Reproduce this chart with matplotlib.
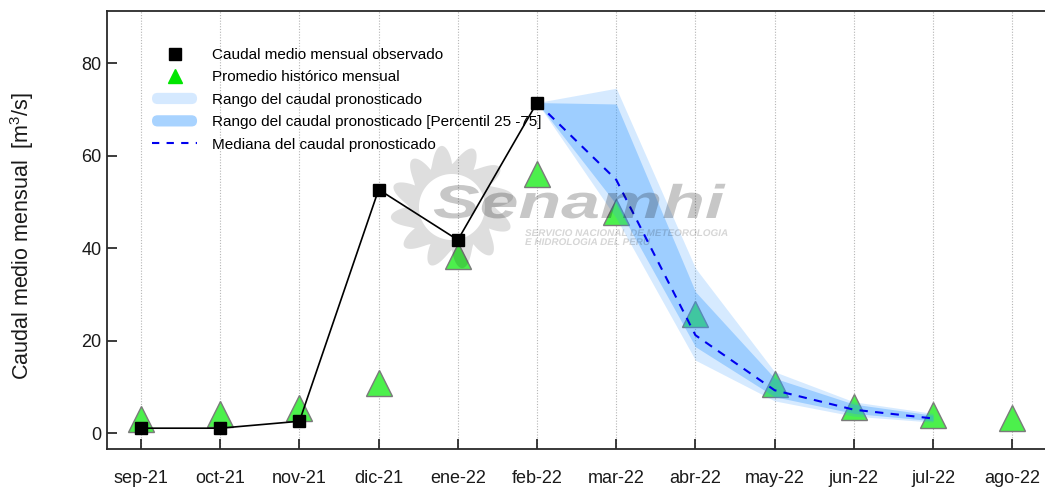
import numpy as np
import matplotlib
matplotlib.use("Agg")
import matplotlib.pyplot as plt
from matplotlib.lines import Line2D
from matplotlib.patches import Patch, FancyBboxPatch, PathPatch
from matplotlib.path import Path
from matplotlib.transforms import Affine2D
from matplotlib.patheffects import AbstractPathEffect
from matplotlib.legend_handler import HandlerBase

plt.rcParams['font.family'] = ['Liberation Sans', 'DejaVu Sans']
plt.rcParams['mathtext.default'] = 'regular'

# ---- data -------------------------------------------------------------
months = ['sep-21', 'oct-21', 'nov-21', 'dic-21', 'ene-22', 'feb-22',
          'mar-22', 'abr-22', 'may-22', 'jun-22', 'jul-22', 'ago-22']

observed = [1.1, 1.1, 2.6, 52.7, 41.8, 71.5]                 # sep-21 .. feb-22
historical = [3.0, 4.1, 5.4, 10.8, 38.3, 56.1,
              47.9, 25.8, 10.7, 5.7, 3.9, 3.2]              # sep-21 .. ago-22

forecast_months = ['feb-22', 'mar-22', 'abr-22', 'may-22', 'jun-22', 'jul-22']
range_upper = [71.5, 74.6, 35.7, 13.3, 6.8, 4.3]
range_lower = [71.5, 46.5, 15.8, 7.0, 3.7, 2.4]
p75 = [71.5, 71.2, 30.6, 11.9, 6.3, 3.9]
p25 = [71.5, 49.5, 18.7, 7.9, 4.3, 2.7]
median = [71.5, 54.8, 21.2, 9.3, 5.1, 3.2]

# ---- figure -----------------------------------------------------------
W, H = 1045, 490
fig = plt.figure(figsize=(W / 100, H / 100), dpi=100)
x_left, x_right = -0.43, 11.6
px_per_month = 79.2
ax_w = (x_right - x_left) * px_per_month
ax = fig.add_axes([107 / W, 41 / H, ax_w / W, (449 - 11) / H])

x_all = np.arange(len(months))
x_obs = x_all[:len(observed)]
x_fc = np.array([months.index(m) for m in forecast_months])


def fx(px):
    return px / W


def fy(py):
    return 1 - py / H


class Stretch(AbstractPathEffect):
    """Widen glyph outlines horizontally about the text anchor."""

    def __init__(self, sx):
        super().__init__()
        self.sx = sx

    def draw_path(self, renderer, gc, tpath, affine, rgbFace=None):
        renderer.draw_path(gc, tpath, Affine2D().scale(self.sx, 1) + affine,
                           rgbFace)


# historical mean
ax.plot(x_all, historical, linestyle='none', marker='^', markersize=19,
        markerfacecolor='#4cf04c', markeredgecolor='#7a7a7a',
        markeredgewidth=1.0, zorder=3)

# forecast ranges
ax.fill_between(x_fc, range_lower, range_upper, color='#3399ff',
                alpha=0.2, linewidth=0, zorder=4)
ax.fill_between(x_fc, p25, p75, color='#3399ff', alpha=0.34,
                linewidth=0, zorder=4.1)
ax.plot(x_fc, median, color='#0000ee', linestyle=(0, (4, 3.5)),
        linewidth=1.5, zorder=5)

# observed
ax.plot(x_obs, observed, color='black', linewidth=1.2, marker='s',
        markersize=8, markerfacecolor='black', markeredgecolor='black',
        zorder=6)

# translucent watermark: swirling sun ring + institution name
cx, cy = 452, 207
theta = np.linspace(0, 2 * np.pi, 1441)
phase = (12 * theta / (2 * np.pi)) % 1.0
r_out = 43 + 19 * np.sin(np.pi * phase ** 1.7) ** 0.8
outer = np.column_stack([fx(cx + r_out * np.cos(theta)),
                         fy(cy + r_out * np.sin(theta))])
inner = np.column_stack([fx(cx + 33 * np.cos(-theta)),
                         fy(cy + 33 * np.sin(-theta))])
verts = np.vstack([outer, outer[:1], inner, inner[:1]])
codes = ([Path.MOVETO] + [Path.LINETO] * (len(outer) - 1) + [Path.CLOSEPOLY]
         + [Path.MOVETO] + [Path.LINETO] * (len(inner) - 1) + [Path.CLOSEPOLY])
ring = PathPatch(Path(verts, codes), transform=fig.transFigure,
                 fc='black', alpha=0.13, ec='none', zorder=8)
ax.add_artist(ring)
ax.text(fx(433), fy(218), 'Senamhi', transform=fig.transFigure,
        fontsize=34, fontweight='bold', fontstyle='italic',
        color='black', alpha=0.22, ha='left', va='baseline', zorder=8.1,
        path_effects=[Stretch(1.48)])
ax.text(fx(525), fy(236), 'SERVICIO NACIONAL DE METEOROLOGIA',
        transform=fig.transFigure, fontsize=7, fontweight='bold',
        fontstyle='italic', color='black', alpha=0.16, ha='left',
        va='baseline', zorder=8.1, path_effects=[Stretch(1.02)])
ax.text(fx(525), fy(245), 'E HIDROLOGIA DEL PERU',
        transform=fig.transFigure, fontsize=7, fontweight='bold',
        fontstyle='italic', color='black', alpha=0.16, ha='left',
        va='baseline', zorder=8.1, path_effects=[Stretch(1.02)])

# axes styling
ax.set_xlim(x_left, x_right)
ax.set_ylim(-3.4, 91.3)
ax.set_xticks(x_all)
ax.set_xticklabels(months)
ax.set_yticks([0, 20, 40, 60, 80])
ax.tick_params(axis='both', direction='in', length=7, width=1.2,
               labelsize=13, colors='#1a1a1a')
ax.tick_params(axis='x', pad=15)
ax.tick_params(axis='y', pad=4)
ax.xaxis.grid(True, linestyle=(0, (1, 1.5)), color='#b5b5b5',
              linewidth=0.8)
ax.set_axisbelow(True)
for s in ax.spines.values():
    s.set_linewidth(1.3)
    s.set_color('#2a2a2a')

fig.text(fx(22), fy(236), 'Caudal medio mensual  [m$^3$/s]',
         rotation=90, fontsize=15.5, ha='center', va='center',
         color='#1a1a1a')


# legend with rounded band swatches
class RoundedSwatch(HandlerBase):
    def create_artists(self, legend, orig_handle, xdescent, ydescent,
                       width, height, fontsize, trans):
        h = height * 1.05
        y0 = -ydescent + (height - h) / 2
        p = FancyBboxPatch((-xdescent, y0), width, h,
                           boxstyle=f"round,pad=0,rounding_size={h / 2}",
                           fc=orig_handle.get_facecolor(), ec='none',
                           transform=trans)
        return [p]


h_obs = Line2D([], [], linestyle='none', marker='s', markersize=8.5,
               color='black')
h_hist = Line2D([], [], linestyle='none', marker='^', markersize=10,
                color='#00e600')
h_range = Patch(facecolor='#d5e9ff')
h_iqr = Patch(facecolor='#a8d3ff')
h_med = Line2D([], [], color='#0000ee', linestyle=(0, (3.5, 3.5)),
               linewidth=1.5)
labels = ['Caudal medio mensual observado',
          'Promedio histórico mensual',
          'Rango del caudal pronosticado',
          'Rango del caudal pronosticado [Percentil 25 -75]',
          'Mediana del caudal pronosticado']
leg = ax.legend([h_obs, h_hist, h_range, h_iqr, h_med], labels,
                loc='upper left', bbox_to_anchor=(fx(152), fy(48)),
                bbox_transform=fig.transFigure, frameon=False,
                fontsize=11, handlelength=2.95, handletextpad=1.0,
                labelspacing=0.55, borderpad=0, borderaxespad=0,
                handler_map={h_range: RoundedSwatch(),
                             h_iqr: RoundedSwatch()})
leg.set_zorder(7)

fig.savefig('out.png', dpi=100)
